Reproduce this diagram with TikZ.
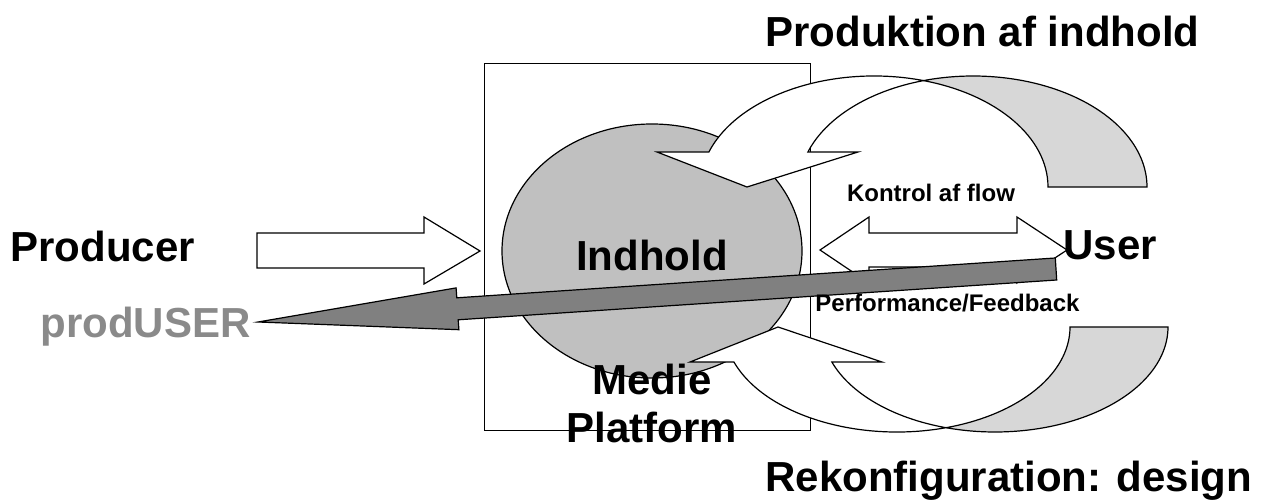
\documentclass[tikz,border=0pt]{standalone}
\usepackage{fontspec}
\setmainfont{Liberation Sans}
\usepackage{tikz}
\usetikzlibrary{shapes.geometric}

\definecolor{discgray}{RGB}{192,192,192}
\definecolor{tailgray}{RGB}{215,215,215}
\definecolor{flowgray}{RGB}{128,128,128}
\definecolor{prodgray}{RGB}{138,138,138}

\begin{document}
\begin{tikzpicture}[
      x=0.5pt, y=-0.5pt,
      big/.style={font=\bfseries\fontsize{21}{24}\selectfont, inner sep=0pt},
      small/.style={font=\bfseries\fontsize{12}{14}\selectfont, inner sep=0pt},
      outline/.style={draw, line width=0.6pt, line join=miter},
      band/.style={outline, fill=white},
      tail/.style={outline, fill=tailgray}
    ]
    \useasboundingbox (0,0) rectangle (1265,502);

    % platform frame and the content disc
    \node[draw, line width=0.6pt, inner sep=0pt, anchor=north west,
      minimum width=163pt, minimum height=183.5pt] (platform) at (484,63) {};
    \node[ellipse, outline, fill=discgray, inner sep=0pt,
      minimum width=150pt, minimum height=127pt] (disc) at (652,251) {};
    \node[big, anchor=base] (indhold) at (652,271) {Indhold};

    % upper loop: production of content
    \draw[band] (657,152) -- (708.9,152)
      arc[start angle=198.38, end angle=286.53, x radius=174, y radius=111]
      arc[start angle=253.47, end angle=198.38, x radius=174, y radius=111]
      -- (858,152) -- (747,187) -- cycle;
    \draw[tail] (923.5,80.6)
      arc[start angle=286.53, end angle=360, x radius=174, y radius=111]
      -- (1147,187)
      arc[start angle=0, end angle=-106.53, x radius=174, y radius=111]
      -- cycle;

    % lower loop: reconfiguration
    \draw[band] (690,362) -- (733.9,362)
      arc[start angle=160.53, end angle=73.55, x radius=173, y radius=105]
      arc[start angle=106.45, end angle=160.53, x radius=173, y radius=105]
      -- (882,362) -- (778,327) -- cycle;
    \draw[tail] (946,427.7)
      arc[start angle=73.55, end angle=0, x radius=173, y radius=105]
      -- (1168,327)
      arc[start angle=0, end angle=106.45, x radius=173, y radius=105]
      -- cycle;

    % producer -> platform
    \draw[band] (257,233) -- (424,233) -- (424,217) -- (480,251)
      -- (424,284) -- (424,268) -- (257,268) -- cycle;

    % flow control, both ways
    \draw[band] (820,250) -- (869,217) -- (869,233) -- (1017,233)
      -- (1017,217) -- (1067,250) -- (1017,283) -- (1017,267)
      -- (869,267) -- (869,283) -- cycle;

    % user back to prodUSER
    \draw[outline, fill=flowgray] (1055.3,258) -- (456.8,297.8)
      -- (456.1,287.9) -- (258,322) -- (458.9,329.7)
      -- (458.2,319.8) -- (1056.7,280) -- cycle;

    % labels
    \node[big, anchor=base west] (produktion) at (765,47) {Produktion af indhold};
    \node[big, anchor=base west] (producer) at (10,262) {Producer};
    \node[big, anchor=base west, text=prodgray] (produser) at (40,338) {prodUSER};
    \node[big, anchor=base west] (user) at (1063,260) {User};
    \node[small, anchor=base] (kontrol) at (931,202) {Kontrol af flow};
    \node[small, anchor=base west] (feedback) at (815,312) {Performance/Feedback};
    \node[big, align=center, anchor=north] (medie) at (652,364) {Medie\\Platform};
    \node[big, anchor=base west] (rekonf) at (765,492) {Rekonfiguration: design};
  \end{tikzpicture}
\end{document}
